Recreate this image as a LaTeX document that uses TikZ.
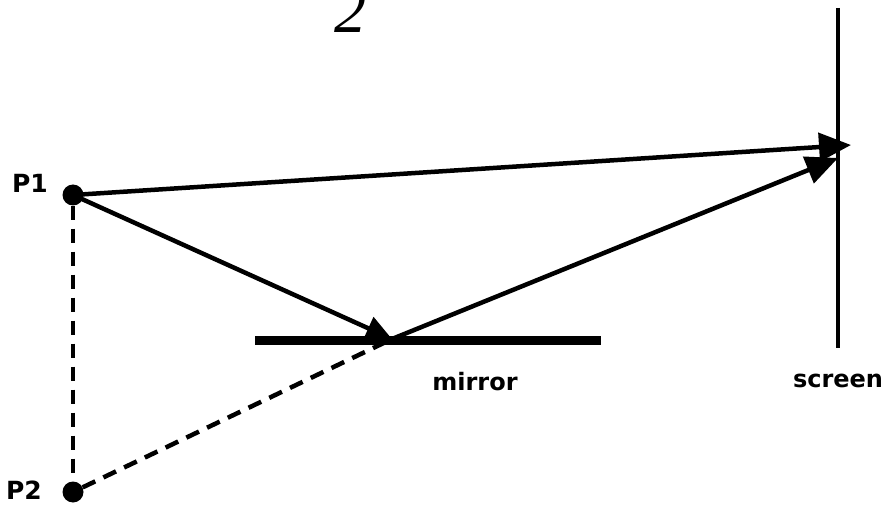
\documentclass[tikz,border=0pt]{standalone}
\usepackage{fontspec}
\setsansfont{DejaVu Sans}
\setmainfont{Liberation Serif}
\usetikzlibrary{arrows.meta}
\begin{document}
\begin{tikzpicture}[x=1pt,y=-1pt,
  ray/.style={line width=4.5pt,-{Triangle[length=32pt,width=28pt]}},
  dashray/.style={line width=4.5pt,dash pattern=on 14pt off 9pt},
  lbl/.style={font=\sffamily\bfseries\fontsize{24}{24}\selectfont,inner sep=0pt},
  plbl/.style={font=\sffamily\bfseries\fontsize{25}{25}\selectfont,inner sep=0pt},
  dot/.style={circle,fill=black,minimum size=21pt,inner sep=0pt}]
\useasboundingbox (0,0) rectangle (887,508);
\node[dot] (P1) at (73,195) {};
\node[dot] (P2) at (73,492) {};
\node[plbl,anchor=center] (l1) at (30,183) {P1};
\node[plbl,anchor=center] (l2) at (24,490) {P2};
\coordinate (M) at (392,339);
\coordinate (ML) at (255,340);
\coordinate (MR) at (601,340);
\coordinate (ST) at (838,8);
\coordinate (SB) at (838,348);
\coordinate (S1) at (851,145);
\coordinate (S2) at (838,158);
\draw[line width=4pt] (ST) -- (SB);
\draw[line width=9pt] (ML) -- (MR);
\draw[dashray] (P1) -- (P2);
\draw[dashray] (P2) -- (M);
\draw[line width=4.5pt,-{Triangle[length=26pt,width=24pt]}] (P1.center) -- (M);
\draw[ray] (M) -- (S2);
\draw[ray] (P1.center) -- (S1);
\node[lbl] (mir) at (475,382) {mirror};
\node[lbl] (scr) at (838,381) {screen};
\node[font=\itshape\fontsize{64}{64}\selectfont,anchor=base,inner sep=0pt] (two) at (350,33) {2};
\end{tikzpicture}
\end{document}
